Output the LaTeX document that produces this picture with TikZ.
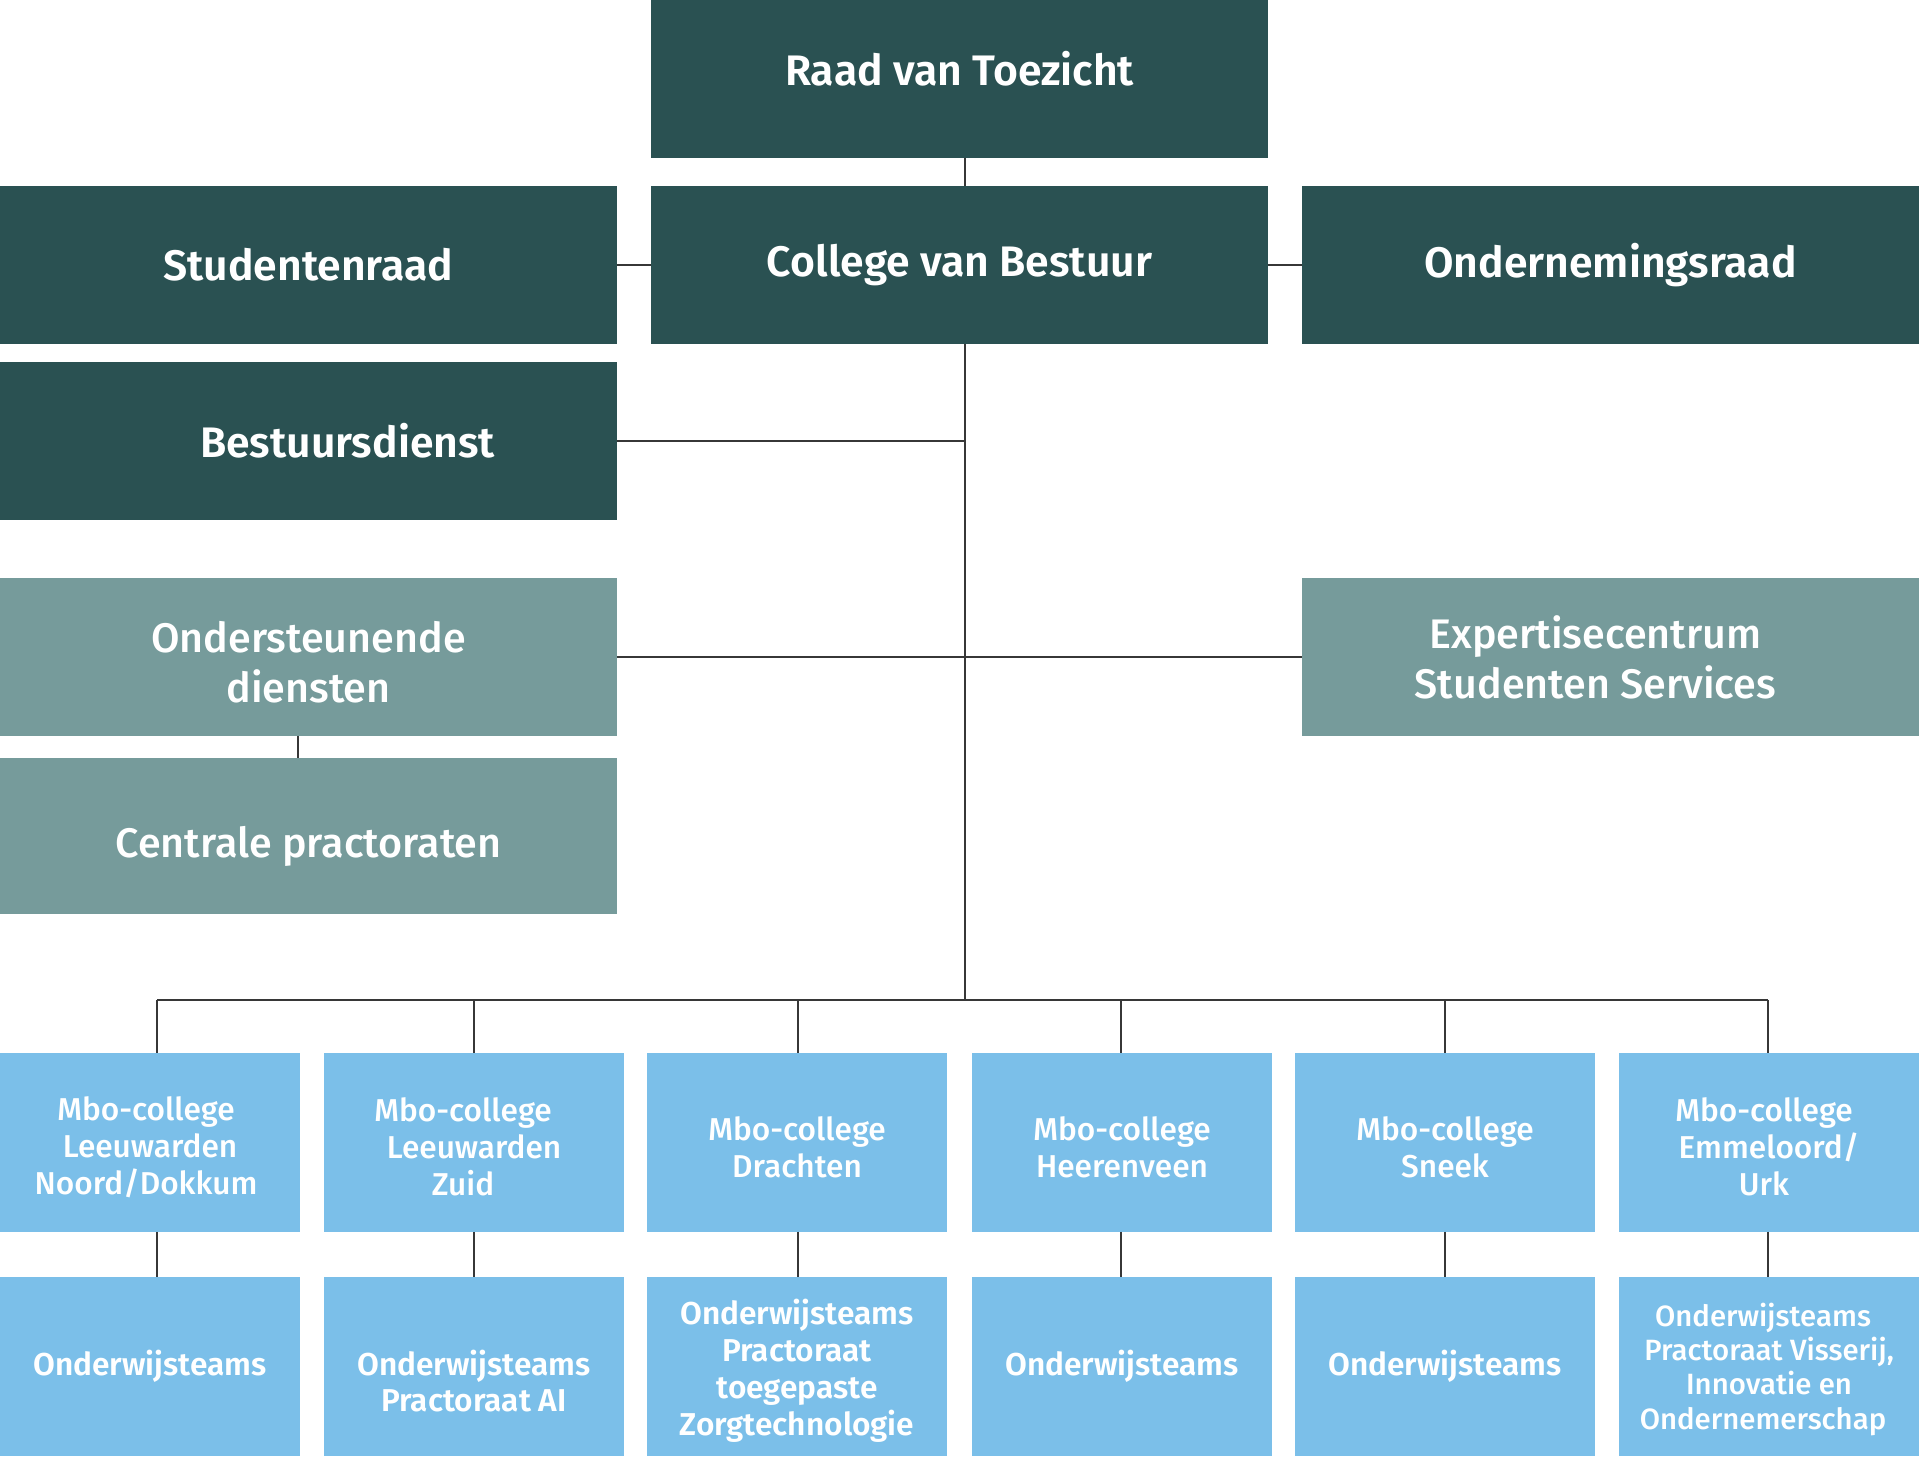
\documentclass[tikz,border=0pt]{standalone}
\usepackage{fontspec}
\setmainfont{Fira Sans}
\newfontfamily\fsmed{Fira Sans Medium}
\newfontfamily\fssemi{Fira Sans SemiBold}
\newcommand\mystrut[1]{\rule{0pt}{#1}}
\definecolor{darkteal}{RGB}{42,81,82}
\definecolor{midteal}{RGB}{118,155,155}
\definecolor{lightblue}{RGB}{123,191,233}
\definecolor{linegray}{RGB}{55,55,55}
\tikzset{
  box/.style={rectangle, inner sep=0pt, outer sep=0pt, text=white, align=center},
  darkbox/.style={box, fill=darkteal, minimum width=12.34cm, minimum height=3.16cm,
    font=\fssemi\fontsize{24.3}{29}\selectfont},
  midbox/.style={box, fill=midteal, minimum width=12.34cm, minimum height=3.16cm,
    font=\fsmed\fontsize{23.5}{28.5}\selectfont},
  mbobox/.style={box, fill=lightblue, minimum width=6cm, minimum height=3.58cm,
    font=\fsmed\fontsize{18}{21}\selectfont},
  teambox/.style={box, fill=lightblue, minimum width=6cm, minimum height=3.58cm,
    font=\fssemi\fontsize{18}{21}\selectfont},
  conn/.style={draw=linegray, line width=1.1pt}
}
\begin{document}
\begin{tikzpicture}[x=0.02cm, y=-0.02cm]
\useasboundingbox (0,0) rectangle (1919,1459);
\fill[white] (0,0) rectangle (1919,1459);
\clip (0,0) rectangle (1919,1459);

% top block
\node[darkbox, minimum height=3.56cm] (raad) at (959.5,69) {Raad van Toezicht};
\node[darkbox] (stud) at (308.5,265) {Studentenraad};
\node[darkbox] (cvb) at (959.5,265) {College van Bestuur};
\node[darkbox] (or) at (1610.5,265) {Ondernemingsraad};
\node[darkbox] (bd) at (308.5,441) {\hspace*{1.56cm}Bestuursdienst};

% middle
\node[midbox] (od) at (308.5,657) {\mystrut{24pt}Ondersteunende\\diensten};
\node[midbox] (ec) at (1610.5,657) {Expertisecentrum\hspace*{0.6cm}\\Studenten Services\hspace*{0.6cm}};
\node[midbox, minimum height=3.14cm] (cp) at (308.5,836) {\mystrut{29.5pt}Centrale practoraten};

% mbo colleges
\node[mbobox] (m1) at (150,1142.5) {\mystrut{18.8pt}Mbo-college\hspace*{0.16cm}\\Leeuwarden\hspace*{0.16cm}\\Noord/Dokkum\hspace*{0.16cm}};
\node[mbobox] (m2) at (474,1142.5) {\mystrut{18.8pt}Mbo-college\hspace*{0.44cm}\\Leeuwarden\hspace*{0.44cm}\\Zuid\hspace*{0.44cm}};
\node[mbobox] (m3) at (797,1142.5) {\mystrut{18.8pt}Mbo-college\\Drachten};
\node[mbobox] (m4) at (1122,1142.5) {\mystrut{18.8pt}Mbo-college\\Heerenveen};
\node[mbobox] (m5) at (1445,1142.5) {\mystrut{18.8pt}Mbo-college\\Sneek};
\node[mbobox] (m6) at (1769,1142.5) {\mystrut{18.8pt}Mbo-college\hspace*{0.2cm}\\Emmeloord/\hspace*{0.2cm}\\Urk\hspace*{0.2cm}};

% teams
\node[teambox] (t1) at (150,1366.5) {Onderwijsteams};
\node[teambox] (t2) at (474,1366.5) {\mystrut{31pt}Onderwijsteams\\Practoraat AI};
\node[teambox] (t3) at (797,1366.5) {\mystrut{19pt}Onderwijsteams\\Practoraat\\toegepaste\\Zorgtechnologie};
\node[teambox] (t4) at (1122,1366.5) {Onderwijsteams};
\node[teambox] (t5) at (1445,1366.5) {Onderwijsteams};
\node[teambox, font=\fsmed\fontsize{16.7}{19.5}\selectfont] (t6) at (1769,1366.5) {\mystrut{16.5pt}Onderwijsteams\hspace*{0.24cm}\\Practoraat Visserij,\hspace*{0.24cm}\\Innovatie en\hspace*{0.24cm}\\Ondernemerschap\hspace*{0.24cm}};

% helper coordinates
\coordinate (mx) at (965,0);
\coordinate (odx) at (298,0);
\coordinate (d1) at (157,1000);
\coordinate (d2) at (474,1000);
\coordinate (d3) at (798,1000);
\coordinate (d4) at (1121,1000);
\coordinate (d5) at (1445,1000);
\coordinate (d6) at (1768,1000);

% connectors
\draw[conn] (raad.south -| mx) -- (cvb.north -| mx);
\draw[conn] (stud.east) -- (cvb.west);
\draw[conn] (cvb.east) -- (or.west);
\draw[conn] (cvb.south -| mx) -- (d1 -| mx);
\draw[conn] (bd.east) -- (bd.east -| mx);
\draw[conn] (od.east) -- (ec.west);
\draw[conn] (od.south -| odx) -- (cp.north -| odx);
\draw[conn] (d1) -- (d6);
\foreach \i in {1,...,6} {
  \draw[conn] (d\i) -- (m\i.north -| d\i);
  \draw[conn] (m\i.south -| d\i) -- (t\i.north -| d\i);
}
\end{tikzpicture}
\end{document}
